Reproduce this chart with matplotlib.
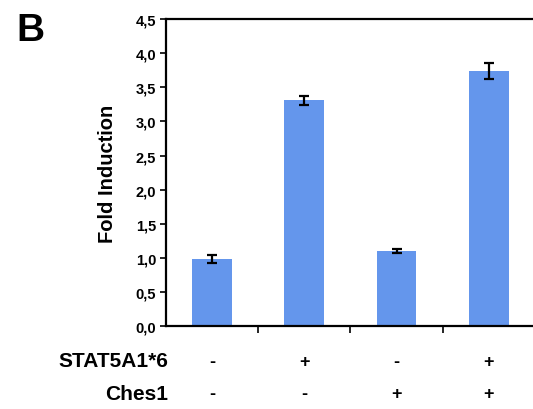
#  Fold induction bar chart (panel B)
import numpy as np
import matplotlib.pyplot as plt
from matplotlib.ticker import FuncFormatter, FixedLocator

plt.rcParams['font.family'] = ['Liberation Sans', 'DejaVu Sans']
plt.rcParams['font.weight'] = 'bold'

#  data
conditions = [0, 1, 2, 3]
fold_induction = [0.98, 3.31, 1.10, 3.74]
fold_error = [0.06, 0.07, 0.03, 0.12]
stat5_signs = ['-', '+', '-', '+']
ches1_signs = ['-', '-', '+', '+']
row_labels = ['STAT5A1*6', 'Ches1']

BAR_COLOR = '#6496EC'

fig = plt.figure(figsize=(5.33, 4.10), dpi=100)
ax = fig.add_axes([0.311, 0.202, 0.693, 0.749])

ax.bar(conditions, fold_induction, width=0.43, color=BAR_COLOR)
ax.errorbar(conditions, fold_induction, yerr=fold_error, fmt='none',
            ecolor='black', elinewidth=1.6, capsize=3.5, capthick=1.6)

ax.set_xlim(-0.5, 3.5)
ax.set_ylim(0, 4.5)
ax.set_yticks(np.arange(0, 4.51, 0.5))
ax.yaxis.set_major_formatter(FuncFormatter(lambda v, p: f'{v:.1f}'.replace('.', ',')))
ax.xaxis.set_major_locator(FixedLocator([0.5, 1.5, 2.5]))
ax.set_xticklabels([])
ax.tick_params(axis='y', labelsize=10.5, length=4, width=1.2, pad=3)
ax.tick_params(axis='x', length=5, width=1.2)
for lab in ax.get_yticklabels():
    lab.set_fontweight('bold')

ax.spines['right'].set_visible(False)
for s in ['left', 'bottom', 'top']:
    ax.spines[s].set_linewidth(1.6)

ax.set_ylabel('Fold Induction', fontsize=14.5, fontweight='bold', labelpad=13)

#  sign table under the bars
trans = ax.get_xaxis_transform()
for i, c in enumerate(conditions):
    ax.text(c, -0.115, stat5_signs[i], transform=trans, ha='center', va='center',
            fontsize=13, fontweight='bold')
    ax.text(c, -0.22, ches1_signs[i], transform=trans, ha='center', va='center',
            fontsize=13, fontweight='bold')
fig.text(0.315, 1 - 362 / 410, row_labels[0], ha='right', va='center',
         fontsize=15, fontweight='bold')
fig.text(0.315, 1 - 395 / 410, row_labels[1], ha='right', va='center',
         fontsize=15, fontweight='bold')

fig.text(0.03, 0.925, 'B', fontsize=28, fontweight='bold', ha='left', va='center')

plt.savefig('out.png', dpi=100)
